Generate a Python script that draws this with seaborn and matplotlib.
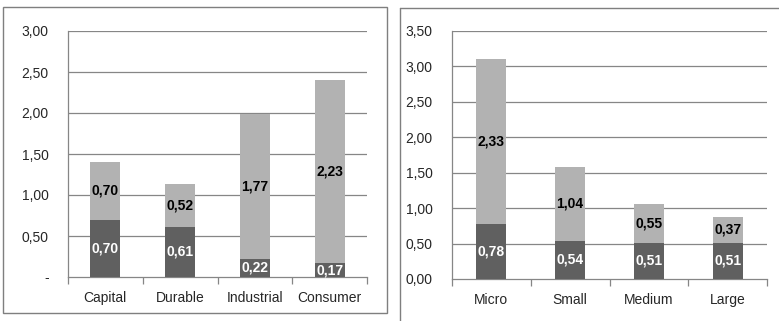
import matplotlib
matplotlib.use("Agg")
import matplotlib.pyplot as plt
from matplotlib.lines import Line2D
from matplotlib.patches import Rectangle
import seaborn as sns
import pandas as pd

# Left panel: goods categories
goods = ["Capital", "Durable", "Industrial", "Consumer"]
goods_base = [0.70, 0.61, 0.22, 0.17]
goods_extra = [0.70, 0.52, 1.77, 2.23]
goods_ticks = [0, 0.5, 1.0, 1.5, 2.0, 2.5, 3.0]
goods_ticklabels = ["-", "0,50", "1,00", "1,50", "2,00", "2,50", "3,00"]

# Right panel: firm size
sizes = ["Micro", "Small", "Medium", "Large"]
sizes_base = [0.78, 0.54, 0.51, 0.51]
sizes_extra = [2.33, 1.04, 0.55, 0.37]
sizes_ticks = [0, 0.5, 1.0, 1.5, 2.0, 2.5, 3.0, 3.5]
sizes_ticklabels = ["0,00", "0,50", "1,00", "1,50", "2,00", "2,50", "3,00", "3,50"]

DARK = "#606060"
LIGHT = "#b2b2b2"
GRID = "#868686"

sns.set_theme(style="white")
plt.rcParams["font.family"] = ["Liberation Sans Narrow", "Liberation Sans", "DejaVu Sans"]

fig = plt.figure(figsize=(7.79, 3.21), dpi=100)


def fmt(v):
    return f"{v:.2f}".replace(".", ",")


def draw_panel(ax, cats, base, extra, ticks, ticklabels, width):
    df = pd.DataFrame({"cat": cats, "base": base, "extra": extra})
    df["total"] = df["base"] + df["extra"]
    sns.barplot(data=df, x="cat", y="total", color=LIGHT, width=width,
                saturation=1, linewidth=0, edgecolor="none", ax=ax, zorder=3)
    sns.barplot(data=df, x="cat", y="base", color=DARK, width=width,
                saturation=1, linewidth=0, edgecolor="none", ax=ax, zorder=4)
    for i, row in df.iterrows():
        ax.text(i, row["base"] / 2, fmt(row["base"]), ha="center", va="center",
                color="white", fontsize=10, fontweight="bold", zorder=5)
        ax.text(i, row["base"] + row["extra"] / 2, fmt(row["extra"]),
                ha="center", va="center", color="black", fontsize=10,
                fontweight="bold", zorder=5)
    ax.set_ylim(0, ticks[-1])
    ax.set_xlim(-0.5, len(cats) - 0.5)
    ax.set_yticks(ticks)
    ax.set_yticklabels(ticklabels)
    ax.set_xticks(range(len(cats)))
    ax.set_xticklabels(cats)
    ax.set_xticks([i - 0.5 for i in range(len(cats) + 1)], minor=True)
    ax.tick_params(axis="x", which="major", length=0, pad=10, labelsize=10)
    ax.tick_params(axis="x", which="minor", length=5, width=0.9,
                   color=GRID, direction="out", bottom=True)
    ax.tick_params(axis="y", length=0, pad=14, labelsize=10)
    ax.set_xlabel("")
    ax.set_ylabel("")
    for t in ticks[1:]:
        ax.axhline(t, color=GRID, lw=0.9, zorder=1)
    for side in ["top", "right"]:
        ax.spines[side].set_visible(False)
    for side in ["left", "bottom"]:
        ax.spines[side].set_color(GRID)
        ax.spines[side].set_linewidth(0.9)
    ax.set_facecolor("white")


ax1 = fig.add_axes([68 / 779, 1 - 277 / 321, 299 / 779, 246 / 321])
draw_panel(ax1, goods, goods_base, goods_extra, goods_ticks, goods_ticklabels, 0.40)

ax2 = fig.add_axes([452 / 779, 1 - 279 / 321, 315 / 779, 248 / 321])
draw_panel(ax2, sizes, sizes_base, sizes_extra, sizes_ticks, sizes_ticklabels, 0.38)

# Frames around the two panels
fig.add_artist(Rectangle((3 / 779, 1 - 313 / 321), 384 / 779, 306 / 321,
                         transform=fig.transFigure, fill=False,
                         edgecolor="#7f7f7f", lw=1.0))
fig.add_artist(Line2D([400 / 779, 400 / 779], [0, 1 - 8 / 321],
                      transform=fig.transFigure, color="#7f7f7f", lw=1.0))
fig.add_artist(Line2D([400 / 779, 1], [1 - 8 / 321, 1 - 8 / 321],
                      transform=fig.transFigure, color="#7f7f7f", lw=1.0))

fig.savefig("out.png", dpi=100)
